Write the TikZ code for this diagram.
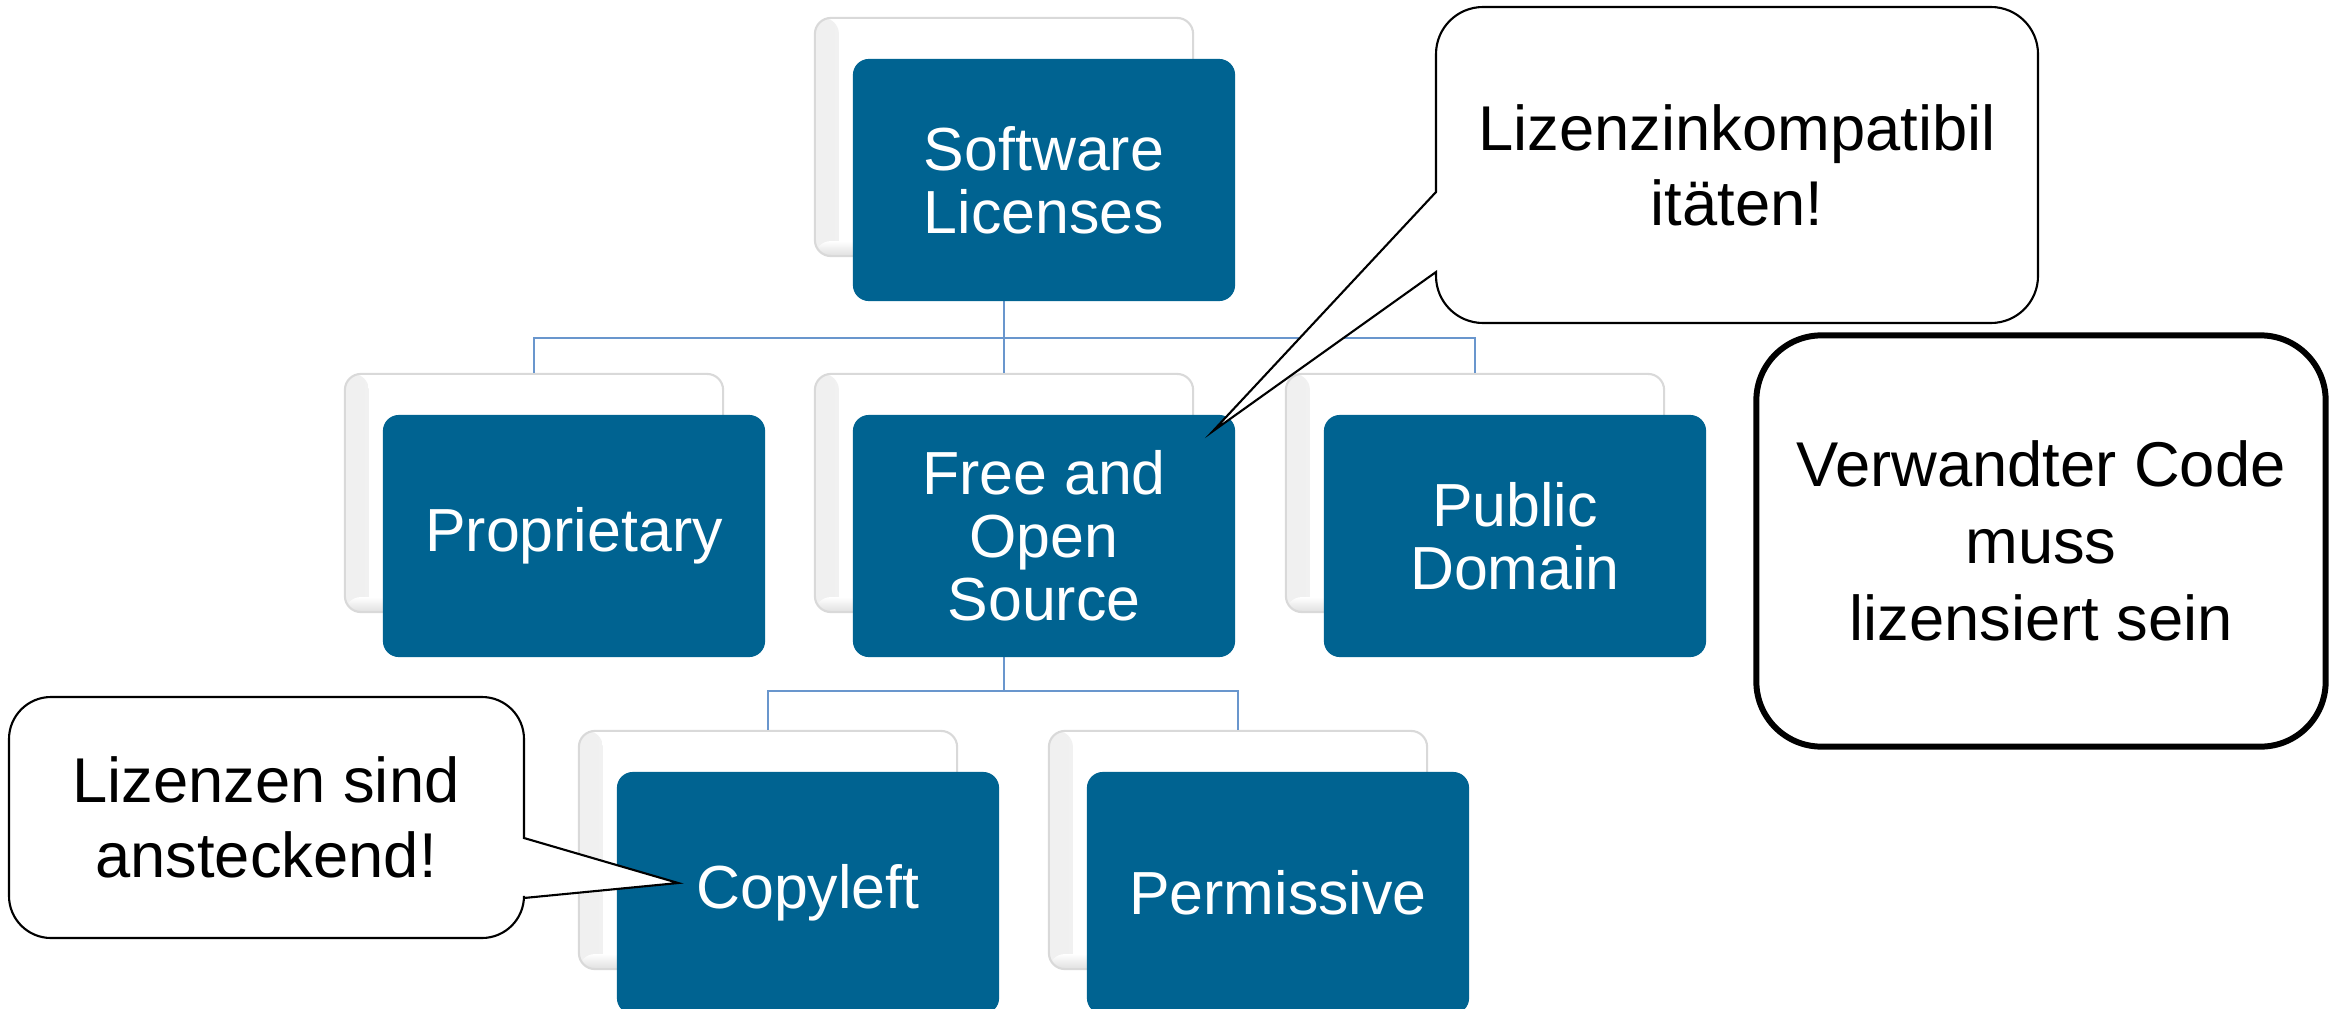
\documentclass[tikz,border=0pt]{standalone}
\usepackage{fontspec}
\setmainfont{Liberation Sans}
\usetikzlibrary{calc}
\definecolor{cardblue}{RGB}{0,99,145}
\definecolor{linkblue}{RGB}{105,150,205}
\tikzset{
  card/.style = {
    fill=cardblue, text=white, rounded corners=.16cm, align=center,
    minimum width=3.82cm, minimum height=2.42cm,
    font=\fontsize{17.3}{17.9}\selectfont
  },
  card back/.style = {
    draw=gray!30, line width=.6pt, fill=white, rounded corners=.16cm,
    minimum width=3.78cm, minimum height=2.38cm,
    path picture={
      \shade[left color=gray!12, middle color=gray!35, right color=white]
        (path picture bounding box.south west) rectangle
        ([xshift=.24cm]path picture bounding box.north west);
      \shade[top color=white, bottom color=gray!25]
        (path picture bounding box.south west) rectangle
        ([yshift=.15cm]path picture bounding box.south east);
    }
  },
  lifted/.style = {
    shift={(40,43)}
  },
  link/.style = {
    draw=linkblue, line width=.6pt
  },
  bubble/.style = {
    draw=black, line width=.6pt, fill=white
  },
  bubble text/.style = {
    align=center, font=\fontsize{18}{21.3}\selectfont
  },
  note/.style = {
    draw=black, line width=1.7pt, rounded corners=.65cm, align=center,
    minimum width=5.69cm, minimum height=4.11cm,
    font=\fontsize{18}{21.9}\selectfont
  }
}

\begin{document}
\begin{tikzpicture}[x=.01cm, y=-.01cm]
    \useasboundingbox (0,0) rectangle (2336,1009);
    \clip (0,0) rectangle (2336,1009);
    % les cartes de fond
    \node[card back] (slb)   at (1004,137) {};
    \node[card back] (propb) at (534,493)  {};
    \node[card back] (fossb) at (1004,493) {};
    \node[card back] (pdb)   at (1475,493) {};
    \node[card back] (copyb) at (768,850)  {};
    \node[card back] (permb) at (1238,850) {};
    % les liens
    \path
      (slb.south) ++(0,81) coordinate (j1)
      (fossb.south) ++(0,78) coordinate (j2)
    ;
    \draw[link]
      (slb.south) -- (j1) -- (fossb.north)
      (propb.north) |- (j1) -| (pdb.north)
      (fossb.south) -- (j2)
      (copyb.north) |- (j2) -| (permb.north)
    ;
    % les cartes
    \node[card, lifted] (sl)   at (slb)   {Software\\Licenses};
    \node[card, lifted] (prop) at (propb) {Proprietary};
    \node[card, lifted] (foss) at (fossb) {Free and\\Open\\Source};
    \node[card, lifted] (pd)   at (pdb)   {Public\\Domain};
    \node[card, lifted] (copy) at (copyb) {Copyleft};
    \node[card, lifted] (perm) at (permb) {Permissive};
    % les pointes des bulles
    \path
      (foss.north east) +(-23,17) coordinate (tip1)
      (copy.west) +(62,-10) coordinate (tip2)
    ;
    % les bulles
    \draw[bubble] (1737,7) [rounded corners=.47cm] -- (2038,7) -- (2038,323)
      -- (1436,323) [sharp corners] -- (1436,272) -- (tip1) -- (1436,192)
      [rounded corners=.47cm] -- (1436,7) -- cycle;
    \node[bubble text] (incompat) at (1737,165) {Lizenzinkompatibil\\itäten!};
    \draw[bubble] (266,697) [rounded corners=.42cm] -- (524,697)
      [sharp corners] -- (524,838) -- (tip2) -- (524,898)
      [rounded corners=.42cm] -- (524,938) -- (9,938) -- (9,697) -- cycle;
    \node[bubble text] (viral) at (266,817) {Lizenzen sind\\ansteckend!};
    % la remarque
    \node[note] (code) at (2041,541) {Verwandter Code\\muss\\lizensiert sein};
\end{tikzpicture}
\end{document}
